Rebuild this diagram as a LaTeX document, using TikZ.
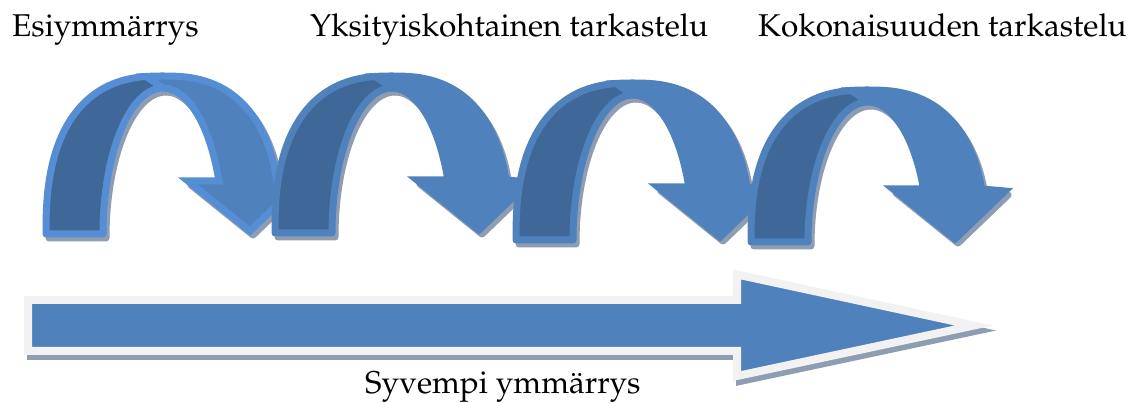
\documentclass[tikz,border=0pt]{standalone}
\usepackage[T1]{fontenc}
\renewcommand{\rmdefault}{ppl}
\definecolor{arrblue}{HTML}{4F81BD}
\definecolor{arrdark}{HTML}{3F6797}
\definecolor{arrglow}{HTML}{558ED5}
\definecolor{shadowgrey}{HTML}{8E9DB2}
\definecolor{bordergrey}{HTML}{F2F2F2}
\tikzset{
  lbl/.style={font=\fontsize{31.5}{38}\selectfont, inner sep=0pt, anchor=base west},
  shad/.style={fill=shadowgrey, draw=shadowgrey, line width=7pt, line join=round},
  backband/.style={fill=arrdark, draw=#1, line width=7pt, line join=round},
  frontband/.style={fill=arrblue, draw=#1, line width=7pt, line join=miter},
}
\newcommand{\backpath}{(0,0) -- plot[domain=180:95, samples=40, variable=\t] ({117+117*sign(cos(\t))*abs(cos(\t))^0.8}, {\Ho*abs(sin(\t))^0.8}) -- (117,\Hi) arc[start angle=90,end angle=180,x radius=60,y radius=\Hi] -- cycle}
\newcommand{\frontpath}{plot[domain=95:\tOut, samples=50, variable=\t] ({117+117*sign(cos(\t))*abs(cos(\t))^0.8}, {\Ho*abs(sin(\t))^0.8}) -- (254,\hb-2) -- (204,3) -- (142,\hb) -- ([shift={(\tIn:60 and \Hi)}]117,0) arc[start angle=\tIn,end angle=90,x radius=60,y radius=\Hi] -- cycle}
\newcommand{\curvedarr}[4]{%
  \begin{scope}[shift={(#1,#2)}]
    \pgfmathsetmacro\Ho{#3}
    \pgfmathsetmacro\Hi{#3-12}
    \pgfmathsetmacro\hb{53}
    \pgfmathsetmacro\tOut{asin((\hb/\Ho)^1.25)}
    \pgfmathsetmacro\tIn{asin(\hb/\Hi)}
    \begin{scope}[shift={(3,-4)}]
      \path[shad] \backpath;
      \path[shad] \frontpath;
    \end{scope}
    \path[backband=#4] \backpath;
    \path[frontband=#4] \frontpath;
  \end{scope}}
\begin{document}
\begin{tikzpicture}[x=1pt,y=1pt]
\useasboundingbox (0,0) rectangle (1137,403);
% big arrow
\path[fill=shadowgrey, draw=shadowgrey, line width=8pt, shift={(3,-5)}]
  (28,103) -- (737,103) -- (737,128.5) -- (974,77.5) -- (737,27) -- (737,52) -- (28,52) -- cycle;
\path[fill=arrblue, draw=bordergrey, line width=8pt]
  (28,103) -- (737,103) -- (737,128.5) -- (974,77.5) -- (737,27) -- (737,52) -- (28,52) -- cycle;
% curved arrows
\curvedarr{46}{169}{158}{arrglow}
\curvedarr{275}{170}{157}{arrblue}
\curvedarr{516}{163}{157}{arrblue}
\curvedarr{751}{161}{152}{arrblue}
% labels
\node[lbl] (t1) at (12,366) {Esiymm\"arrys};
\node[lbl] (t2) at (310,366) {Yksityiskohtainen tarkastelu};
\node[lbl] (t3) at (758,366) {Kokonaisuuden tarkastelu};
\node[lbl] (t4) at (365,9) {Syvempi ymm\"arrys};
\end{tikzpicture}
\end{document}
